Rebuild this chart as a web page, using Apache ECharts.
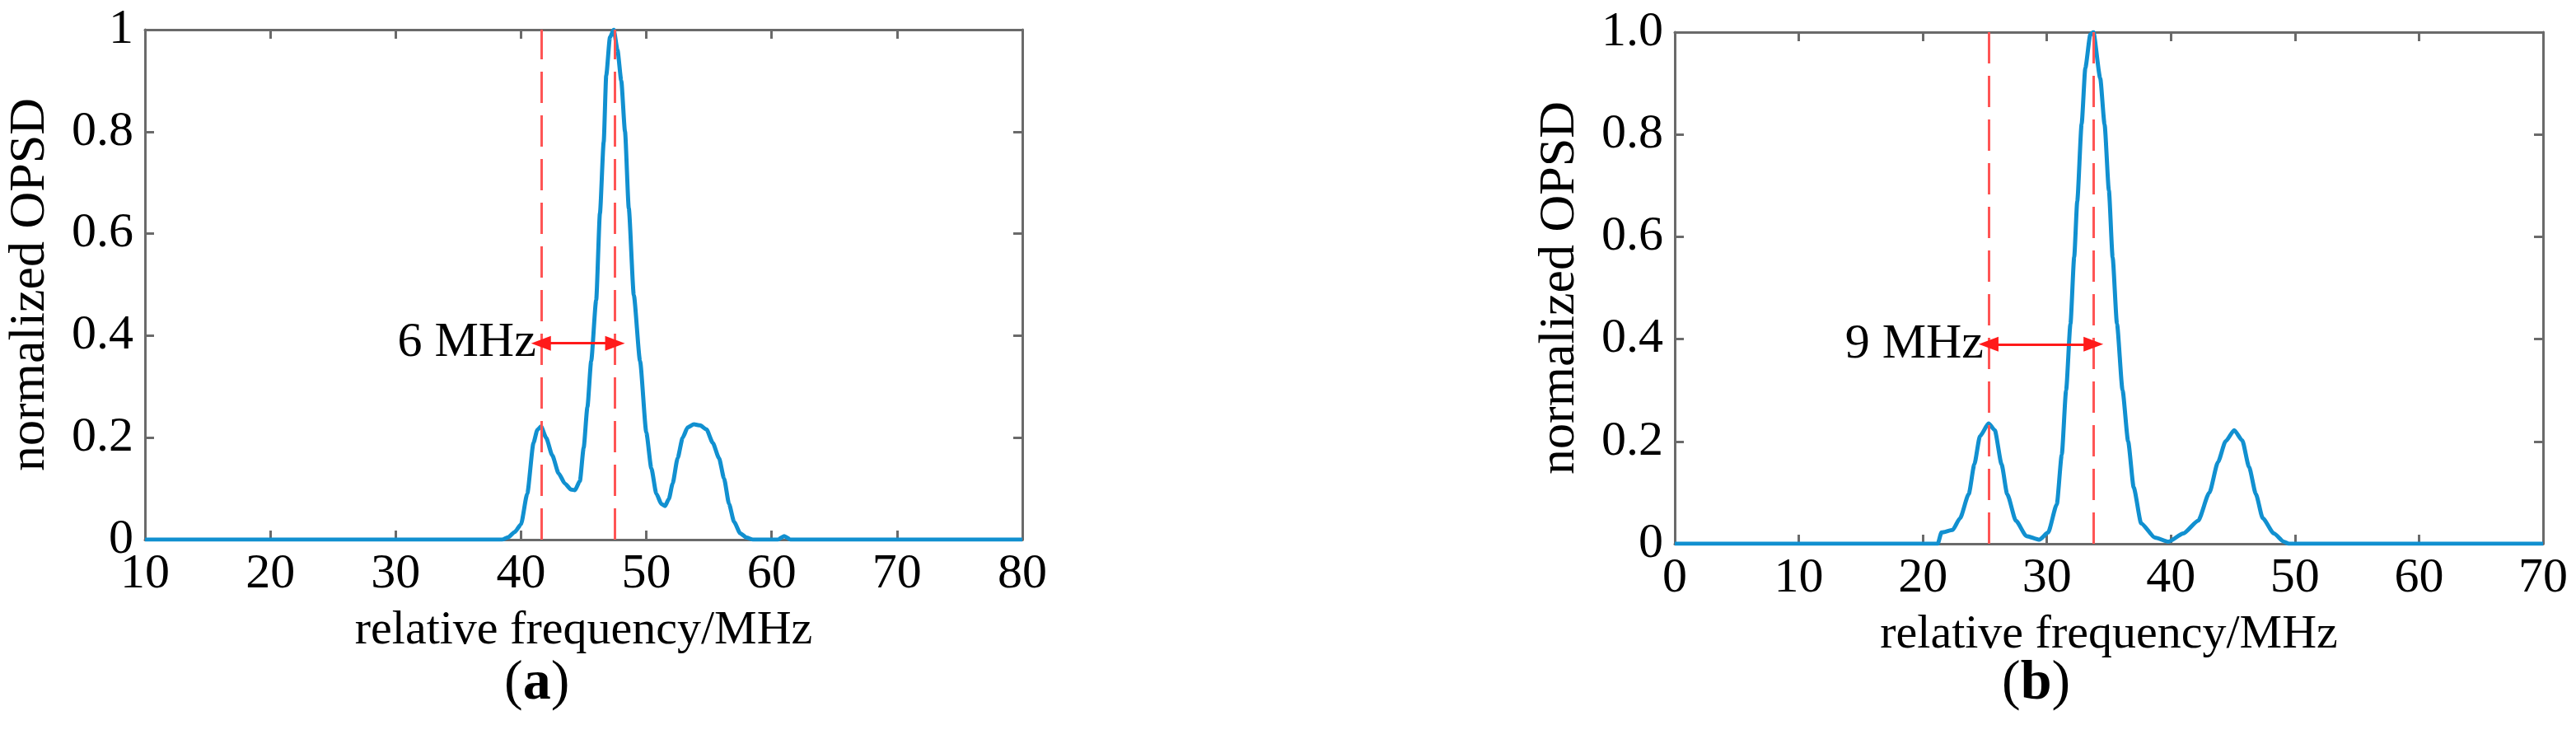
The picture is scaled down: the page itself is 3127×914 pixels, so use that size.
<!DOCTYPE html>
<html>
<head>
<meta charset="utf-8">
<script src="https://cdn.jsdelivr.net/npm/echarts@6/dist/echarts.min.js"></script>
<style>html,body{margin:0;padding:0;background:#fff}#c{width:3127px;height:914px}</style>
</head>
<body>
<div id="c"></div>
<script>
// ---- Panel (a) data ----
const freqA = [10, 38.5, 39, 39.5, 40, 40.5, 41, 41.3, 41.6, 42, 42.5, 43, 43.5, 44, 44.3, 44.7, 45, 45.3, 45.6, 46, 46.3, 46.6, 46.8, 47.1, 47.4, 47.7, 48, 48.3, 48.6, 49, 49.5, 50, 50.4, 50.8, 51.2, 51.5, 51.8, 52.1, 52.5, 52.9, 53.3, 53.8, 54.3, 54.8, 55.3, 55.8, 56.2, 56.6, 57, 57.5, 58, 58.5, 60.5, 61, 61.5, 80];
const opsdA = [0, 0, 0.005, 0.015, 0.03, 0.09, 0.19, 0.215, 0.222, 0.2, 0.165, 0.13, 0.11, 0.098, 0.097, 0.115, 0.18, 0.26, 0.35, 0.47, 0.64, 0.78, 0.91, 0.985, 1.0, 0.96, 0.9, 0.8, 0.65, 0.48, 0.35, 0.21, 0.14, 0.09, 0.07, 0.066, 0.08, 0.11, 0.16, 0.2, 0.22, 0.226, 0.224, 0.216, 0.19, 0.16, 0.12, 0.07, 0.035, 0.012, 0.004, 0, 0, 0.007, 0, 0];
const markersA = [41.6, 47.5];
const arrowYA = 0.385;
const labelA = '6 MHz';

// ---- Panel (b) data ----
const freqB = [0, 21.2, 21.5, 22.4, 23, 23.7, 24.15, 24.6, 25.3, 25.8, 26.35, 26.8, 27.5, 28.35, 29.4, 30.1, 30.8, 31.2, 31.55, 31.9, 32.2, 32.45, 32.8, 33.1, 33.5, 33.75, 34.3, 34.65, 35, 35.3, 35.65, 36.1, 36.55, 37, 37.6, 38.7, 39.8, 41, 42.2, 43.1, 43.8, 44.4, 45.1, 45.75, 46.3, 46.85, 47.4, 48.3, 49.1, 49.5, 70];
const opsdB = [0, 0, 0.022, 0.027, 0.05, 0.097, 0.155, 0.21, 0.235, 0.222, 0.155, 0.097, 0.045, 0.015, 0.008, 0.022, 0.077, 0.174, 0.3, 0.43, 0.56, 0.67, 0.82, 0.93, 0.995, 1.0, 0.91, 0.82, 0.69, 0.56, 0.43, 0.3, 0.2, 0.11, 0.04, 0.012, 0.004, 0.02, 0.045, 0.1, 0.16, 0.2, 0.222, 0.202, 0.15, 0.097, 0.05, 0.02, 0.004, 0, 0];
const markersB = [25.3, 33.75];
const arrowYB = 0.39;
const labelB = '9 MHz';

// ---- axes ----
const xRangeA = [10, 80];
const xRangeB = [0, 70];
const xStep = 10;
const yRange = [0, 1];
const yStep = 0.2;

const FONT = '"Liberation Serif", "Times New Roman", serif';
const BLUE = '#1190d0';
const BOX = '#6a6a6a';

const chart = echarts.init(document.getElementById('c'));

function pairs(xs, ys) { return xs.map((x, i) => [x, ys[i]]); }

const grids = [
  { left: 176, top: 36, width: 1065, height: 619 },
  { left: 2033, top: 39, width: 1054, height: 621 }
];

const xAxes = [], yAxes = [], series = [];
const panels = [
  { xr: xRangeA, fx: freqA, fy: opsdA, mk: markersA, ay: arrowYA, lab: labelA, yfmt: v => String(+v.toFixed(1)) },
  { xr: xRangeB, fx: freqB, fy: opsdB, mk: markersB, ay: arrowYB, lab: labelB, yfmt: v => v === 0 ? '0' : v.toFixed(1) }
];

panels.forEach((p, gi) => {
  const common = {
    gridIndex: gi,
    axisLine: { show: true, onZero: false, lineStyle: { color: BOX, width: 3 } },
    axisTick: { show: true, inside: true, length: 11, lineStyle: { color: BOX, width: 3 } },
    splitLine: { show: false }
  };
  xAxes.push(Object.assign({}, common, {
    type: 'value', position: 'bottom', min: p.xr[0], max: p.xr[1], interval: xStep,
    axisLabel: { show: true, margin: 12, fontSize: 60, color: '#000', fontFamily: FONT },
    name: 'relative frequency/MHz', nameLocation: 'middle', nameGap: 82,
    nameTextStyle: { fontSize: 58, color: '#000', fontFamily: FONT }
  }));
  xAxes.push(Object.assign({}, common, {
    type: 'value', position: 'top', min: p.xr[0], max: p.xr[1], interval: xStep,
    axisLabel: { show: false }
  }));
  yAxes.push(Object.assign({}, common, {
    type: 'value', position: 'left', min: yRange[0], max: yRange[1], interval: yStep,
    axisLabel: { show: true, margin: 14, fontSize: 60, color: '#000', fontFamily: FONT, formatter: p.yfmt },
    name: 'normalized OPSD', nameLocation: 'middle', nameGap: 108,
    nameTextStyle: { fontSize: 62, color: '#000', fontFamily: FONT }
  }));
  yAxes.push(Object.assign({}, common, {
    type: 'value', position: 'right', min: yRange[0], max: yRange[1], interval: yStep,
    axisLabel: { show: false }
  }));
  const xi = gi * 2, yi = gi * 2;
  series.push({
    type: 'line', xAxisIndex: xi, yAxisIndex: yi,
    data: pairs(p.fx, p.fy), showSymbol: false, smooth: 0.2, smoothMonotone: 'x',
    lineStyle: { color: BLUE, width: 5 }, z: 3, silent: true
  });
  series.push({
    type: 'line', xAxisIndex: xi, yAxisIndex: yi, data: [], silent: true,
    markLine: {
      silent: true, symbol: 'none', animation: false,
      label: { show: false },
      lineStyle: { color: '#ff5555', width: 3, type: [38, 15] },
      data: p.mk.map(v => ({ xAxis: v }))
    }, z: 4
  });
  series.push({
    type: 'line', xAxisIndex: xi, yAxisIndex: yi, data: [], silent: true,
    markLine: {
      silent: true, animation: false,
      symbol: ['triangle', 'triangle'], symbolSize: [18, 24],
      lineStyle: { color: '#ff1a1a', width: 3, type: 'solid' },
      label: { show: true, position: 'start', distance: 6, formatter: p.lab,
               fontSize: 60, color: '#000', fontFamily: FONT },
      data: [[{ coord: [p.mk[0], p.ay] }, { coord: [p.mk[1], p.ay] }]]
    }, z: 5
  });
});

chart.setOption({
  animation: false,
  backgroundColor: '#fff',
  grid: grids,
  xAxis: xAxes,
  yAxis: yAxes,
  series: series,
  graphic: [
    { type: 'text', left: 612, top: 796, style: { text: '{n|(}{b|a}{n|)}', rich: {
        n: { fontSize: 68, fontFamily: FONT, fill: '#000' },
        b: { fontSize: 68, fontFamily: FONT, fontWeight: 'bold', fill: '#000' } } } },
    { type: 'text', left: 2430, top: 796, style: { text: '{n|(}{b|b}{n|)}', rich: {
        n: { fontSize: 68, fontFamily: FONT, fill: '#000' },
        b: { fontSize: 68, fontFamily: FONT, fontWeight: 'bold', fill: '#000' } } } }
  ]
});
</script>
</body>
</html>
